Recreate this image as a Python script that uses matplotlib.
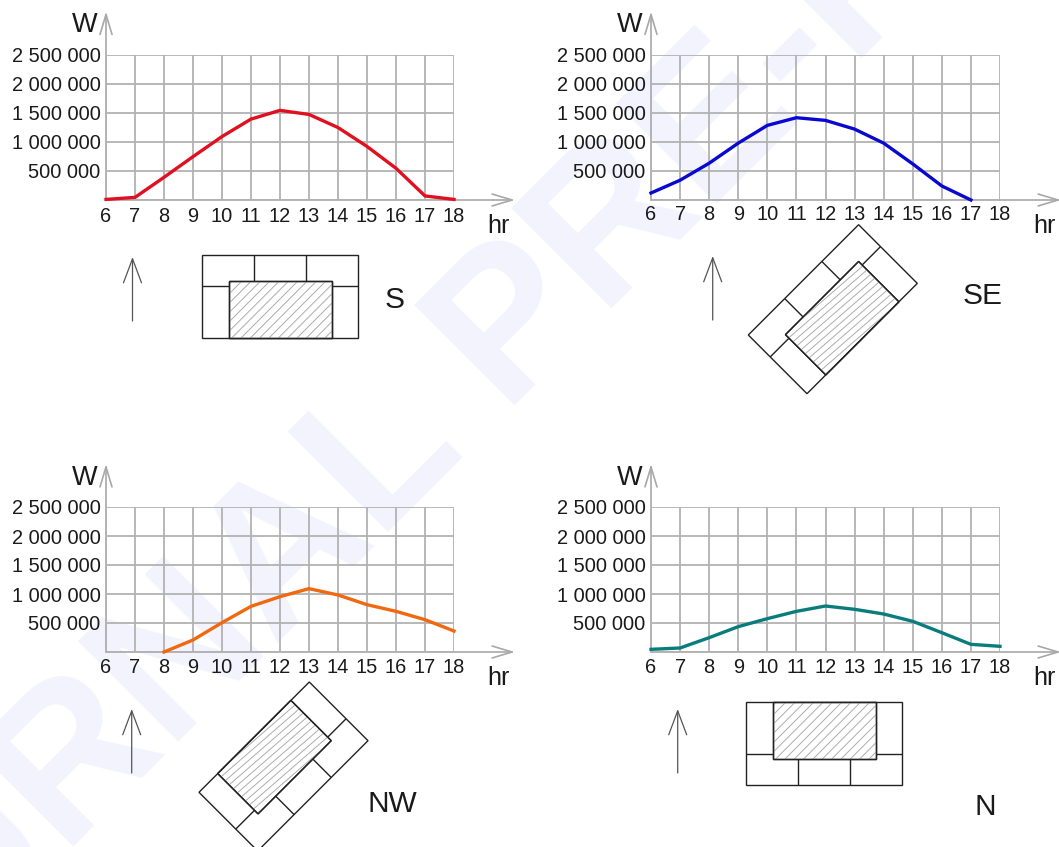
import numpy as np
import matplotlib
matplotlib.use("Agg")
import matplotlib.pyplot as plt
from matplotlib.collections import LineCollection
from matplotlib.patches import Polygon

plt.rcParams["font.family"] = ["Liberation Sans", "DejaVu Sans"]

WIDTH, HEIGHT = 1059, 847

HOURS = [6, 7, 8, 9, 10, 11, 12, 13, 14, 15, 16, 17, 18]
Y_TICKS = [0, 500000, 1000000, 1500000, 2000000, 2500000]
Y_LABELS = ["", "500 000", "1 000 000", "1 500 000", "2 000 000", "2 500 000"]

S_HOURS = HOURS
S_WATTS = [10000, 45000, 390000, 745000, 1090000, 1390000, 1540000, 1470000, 1245000, 920000, 545000, 70000, 10000]
SE_HOURS = HOURS[:12]
SE_WATTS = [120000, 340000, 632000, 977000, 1282000, 1414000, 1368000, 1218000, 977000, 620000, 241000, 0]
NW_HOURS = HOURS[2:]
NW_WATTS = [0, 207000, 506000, 787000, 954000, 1092000, 983000, 816000, 701000, 557000, 362000]
N_HOURS = HOURS
N_WATTS = [46000, 69000, 247000, 437000, 575000, 701000, 793000, 736000, 655000, 529000, 333000, 132000, 98000]

GRID_COLOR = "#b2b2b2"
TEXT_COLOR = "#1a1a1a"
PLAN_COLOR = "#222222"


def px_axes(fig, left, right, top, bottom):
    return fig.add_axes([left / WIDTH, 1 - bottom / HEIGHT, (right - left) / WIDTH, (bottom - top) / HEIGHT])


def draw_arrow(ax, start, tip, color, head_length, head_width, linewidth):
    style = f"->,head_length={head_length * 0.72},head_width={head_width * 0.72}"
    ax.annotate(
        "",
        xy=tip,
        xytext=start,
        annotation_clip=False,
        arrowprops=dict(arrowstyle=style, color=color, lw=linewidth, shrinkA=0, shrinkB=0, mutation_scale=1),
    )


def draw_panel(fig, bg, hours, watts, color, left, right, top, bottom, x_pad):
    ax = px_axes(fig, left, right, top, bottom)
    ax.patch.set_alpha(0)
    ax.set_xlim(6, 18)
    ax.set_ylim(0, 2500000)
    ax.set_xticks(HOURS)
    ax.set_xticklabels(HOURS)
    ax.set_yticks(Y_TICKS)
    ax.set_yticklabels(Y_LABELS)
    ax.tick_params(length=0, labelsize=14.4, labelcolor=TEXT_COLOR)
    ax.tick_params(axis="x", pad=x_pad)
    ax.tick_params(axis="y", pad=4)
    ax.grid(True, color=GRID_COLOR, linewidth=1.3)
    ax.set_axisbelow(True)
    for spine in ax.spines.values():
        spine.set_visible(False)
    ax.plot(hours, watts, color=color, linewidth=2.4, clip_on=False, solid_joinstyle="miter")

    # axes are drawn on the background layer, they stick out past the grid
    draw_arrow(bg, (left, bottom), (right + 61, bottom), "#a8a8a8", 20, 6, 1.2)
    draw_arrow(bg, (left, bottom), (left, top - 43), "#a8a8a8", 20, 6, 1.2)
    bg.text(left - 21, top - 29, "W", fontsize=19.5, color=TEXT_COLOR, ha="center", va="center")
    bg.text(right + 44, bottom + 26, "hr", fontsize=18, color=TEXT_COLOR, ha="center", va="center")


def draw_plan(ax, origin, angle, flipped, hatch_angle, hatch_step):
    # plan is 156 x 83 with three rooms along the long side and the hatched block in the middle
    rad = np.radians(angle)
    ux = np.array([np.cos(rad), -np.sin(rad)])
    uy = np.array([np.sin(rad), np.cos(rad)])
    origin = np.array(origin, dtype=float)

    def place(x, y):
        if flipped:
            y = 83 - y
        return origin + ux * x + uy * y

    outer = [place(0, 0), place(156, 0), place(156, 83), place(0, 83)]
    inner = [place(26.5, 26), place(130, 26), place(130, 83), place(26.5, 83)]
    dividers = [
        [place(51.5, 0), place(51.5, 26)],
        [place(104, 0), place(104, 26)],
        [place(0, 31), place(26.5, 31)],
        [place(130, 31), place(156, 31)],
    ]

    box = Polygon(inner, closed=True, facecolor="white", edgecolor=PLAN_COLOR, linewidth=1.0, zorder=3)
    ax.add_patch(box)

    centre = np.mean(inner, axis=0)
    hrad = np.radians(hatch_angle)
    along = np.array([np.cos(hrad), -np.sin(hrad)])
    across = np.array([np.sin(hrad), np.cos(hrad)])
    segments = []
    for offset in np.arange(-100, 100, hatch_step):
        mid = centre + across * offset
        segments.append([mid - along * 130, mid + along * 130])
    hatch = LineCollection(segments, colors="#adadad", linewidths=0.7, zorder=3.5)
    ax.add_collection(hatch)
    hatch.set_clip_path(box)

    ax.add_patch(Polygon(inner, closed=True, fill=False, edgecolor=PLAN_COLOR, linewidth=1.0, zorder=4))
    ax.add_patch(Polygon(outer, closed=True, fill=False, edgecolor=PLAN_COLOR, linewidth=1.0, zorder=2, clip_on=False))
    ax.add_collection(LineCollection(dividers, colors=PLAN_COLOR, linewidths=1.0, zorder=2))


fig = plt.figure(figsize=(WIDTH / 100, HEIGHT / 100), dpi=100)

bg = fig.add_axes([0, 0, 1, 1])
bg.set_xlim(0, WIDTH)
bg.set_ylim(HEIGHT, 0)
bg.axis("off")

bg.text(
    530, 315, "JOURNAL PRE-PROOF",
    fontsize=148, fontweight="bold", color="#f3f3fe",
    rotation=45, rotation_mode="anchor", ha="center", va="center", zorder=0,
)

draw_panel(fig, bg, S_HOURS, S_WATTS, "#e01020", 106, 454, 54.5, 200, 5)
draw_panel(fig, bg, SE_HOURS, SE_WATTS, "#0808d0", 651, 1000, 54.5, 200, 3.5)
draw_panel(fig, bg, NW_HOURS, NW_WATTS, "#f06810", 106, 454, 507, 652, 4)
draw_panel(fig, bg, N_HOURS, N_WATTS, "#0a7c7c", 651, 1000, 507, 652, 4)

for x, y0 in [(132.5, 257), (712.7, 256), (131.7, 709), (677.7, 709)]:
    draw_arrow(bg, (x, y0 + 64), (x, y0), "#555555", 24, 9, 0.9)

draw_plan(bg, (202, 255), 0, False, 45, 6.6)
draw_plan(bg, (748.3, 335), 45, False, 41, 5.7)
draw_plan(bg, (199, 792.3), 45, True, 41, 5.7)
draw_plan(bg, (746, 702), 0, True, 45, 6.6)

for label, x, y in [("S", 395, 300), ("SE", 983, 296), ("NW", 392, 804), ("N", 985, 807)]:
    bg.text(x, y, label, fontsize=21.5, color=TEXT_COLOR, ha="center", va="center")

fig.savefig("out.png", dpi=100)
